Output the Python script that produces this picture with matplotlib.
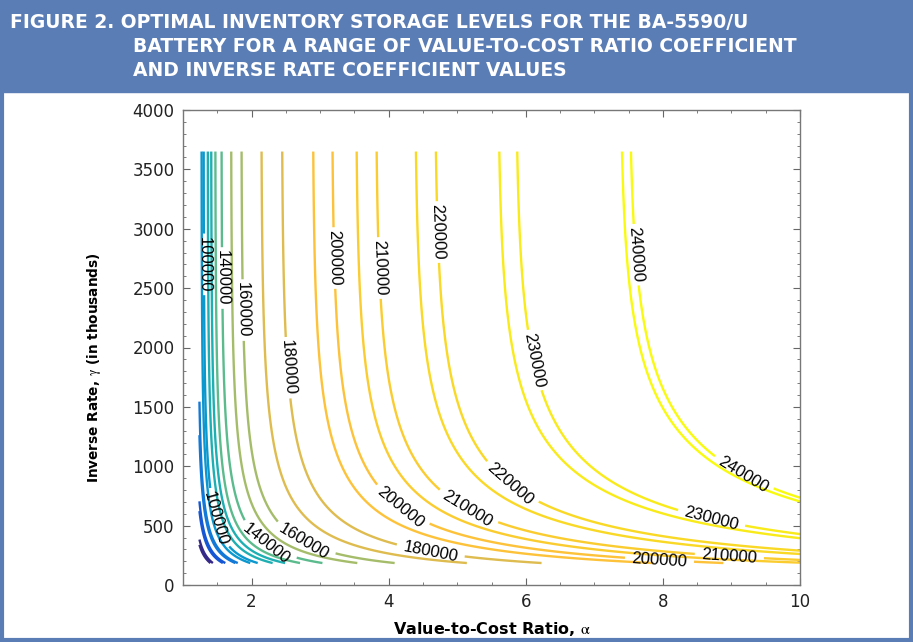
import numpy as np
import matplotlib
matplotlib.use("Agg")
import matplotlib.pyplot as plt
from matplotlib.colors import LinearSegmentedColormap, Normalize
from matplotlib.patches import Rectangle

# Contour levels (optimal storage level, number of batteries)
niveis = [40000, 60000, 80000, 100000, 120000, 140000, 160000, 180000,
          200000, 210000, 220000, 230000, 240000]

# Value-to-cost ratio where each level meets the top of the grid (gamma = 3650)
alfa_principal = [1.12, 1.17, 1.22, 1.30, 1.41, 1.56, 1.85, 2.44,
                  3.17, 3.81, 4.67, 5.85, 7.50]
# Second solution set, drawn without labels
alfa_secundario = [1.11, 1.16, 1.21, 1.27, 1.36, 1.47, 1.70, 2.14,
                   2.89, 3.52, 4.38, 5.59, 7.37]

# Where the labels sit (alpha, gamma) for each labelled level
rotulos = {
    100000: [(1.31, 2700), (1.47, 560)],
    140000: [(1.56, 2585), (2.26, 379)],
    160000: [(1.87, 2315), (2.70, 311)],
    180000: [(2.45, 1827), (4.6, 253)],
    200000: [(3.18, 2753), (4.16, 648), (7.95, 210)],
    210000: [(3.84, 2669), (5.1, 606), (8.97, 244)],
    220000: [(4.70, 2972), (5.76, 842)],
    230000: [(6.13, 1894), (8.68, 505)],
    240000: [(7.54, 2779), (9.16, 926)],
}

# Grid limits
alfa_min, alfa_max = 1.24, 10.0
gama_min, gama_max = 185.0, 3650.0
# Inverse-rate attenuation  k = 1 - exp(-((gamma - g0)/tau)**beta)
g0, tau, beta = 50.0, 512.0, 0.85

AZUL = "#5A7DB5"

# parula (MATLAB) anchors
parula = LinearSegmentedColormap.from_list("parula", [
    (0.2081, 0.1663, 0.5292), (0.0591, 0.3598, 0.8683),
    (0.0779, 0.5040, 0.8384), (0.0231, 0.6418, 0.7913),
    (0.1801, 0.7177, 0.6424), (0.5300, 0.7491, 0.4661),
    (0.8185, 0.7327, 0.3498), (0.9938, 0.7455, 0.2403),
    (0.9789, 0.8271, 0.1633), (0.9763, 0.9831, 0.0538)])


def superficie():
    alfa = np.linspace(alfa_min, alfa_max, 500)
    gama = np.linspace(gama_min, gama_max, 500)
    A, G = np.meshgrid(alfa, gama)
    k = 1.0 - np.exp(-((G - g0) / tau) ** beta)
    return A, G, 1.0 + (A - 1.0) * k


def main():
    plt.rcParams["mathtext.fontset"] = "stix"
    fig = plt.figure(figsize=(9.13, 6.42), dpi=100)

    # banner + frame
    fig.patches.append(Rectangle((0, 1 - 92 / 642), 1, 92 / 642,
                                 transform=fig.transFigure, color=AZUL, zorder=0))
    fig.patches.append(Rectangle((0.002, 0.003), 0.996, 0.994, transform=fig.transFigure,
                                 fill=False, edgecolor=AZUL, linewidth=3, zorder=0))
    titulo = dict(color="white", fontsize=13.5, fontweight="bold",
                  family="DejaVu Sans", va="center")
    fig.text(10 / 913, 1 - 22 / 642,
             "FIGURE 2. OPTIMAL INVENTORY STORAGE LEVELS FOR THE BA-5590/U", **titulo)
    fig.text(133 / 913, 1 - 46 / 642,
             "BATTERY FOR A RANGE OF VALUE-TO-COST RATIO COEFFICIENT", **titulo)
    fig.text(133 / 913, 1 - 70 / 642,
             "AND INVERSE RATE COEFFICIENT VALUES", **titulo)

    ax = fig.add_axes([183 / 913, 57 / 642, 617 / 913, 475 / 642])
    A, G, Z = superficie()

    norm = Normalize(min(niveis), max(niveis))
    cores = [parula(norm(n)) for n in niveis]

    ax.contour(A, G, Z, levels=alfa_secundario, colors=cores, linewidths=1.7)
    cs = ax.contour(A, G, Z, levels=alfa_principal, colors=cores, linewidths=1.7)

    fmt = {a: str(n) for a, n in zip(cs.levels, niveis)}
    pos = [p for n in rotulos for p in rotulos[n]]
    ax.clabel(cs, manual=pos, inline=True, fmt=fmt, fontsize=12,
              colors="k", inline_spacing=4)
    for t in cs.labelTexts:
        t.set_family("Liberation Sans")

    ax.set_xlim(1, 10)
    ax.set_ylim(0, 4000)
    ax.set_xticks([2, 4, 6, 8, 10])
    ax.set_yticks(np.arange(0, 4001, 500))
    ax.set_xticks(np.arange(1, 10.01, 0.5), minor=True)
    ax.set_yticks(np.arange(0, 4001, 100), minor=True)
    ax.tick_params(which="both", direction="in", top=True, right=True,
                   color="#666666", labelsize=12, labelcolor="#222222", pad=6)
    ax.tick_params(which="major", length=5)
    ax.tick_params(which="minor", length=2.5)
    for s in ax.spines.values():
        s.set_color("#777777")
        s.set_linewidth(1.0)

    ax.set_xlabel(r"Value-to-Cost Ratio, $\mathrm{\alpha}$", fontsize=11.5,
                  fontweight="bold", labelpad=6)
    ax.set_ylabel(r"Inverse Rate, $\mathrm{\gamma}$ (in thousands)", fontsize=9.8,
                  fontweight="bold")
    ax.yaxis.set_label_coords(-0.13, 0.457)

    fig.savefig("out.png", dpi=100)


if __name__ == "__main__":
    main()
